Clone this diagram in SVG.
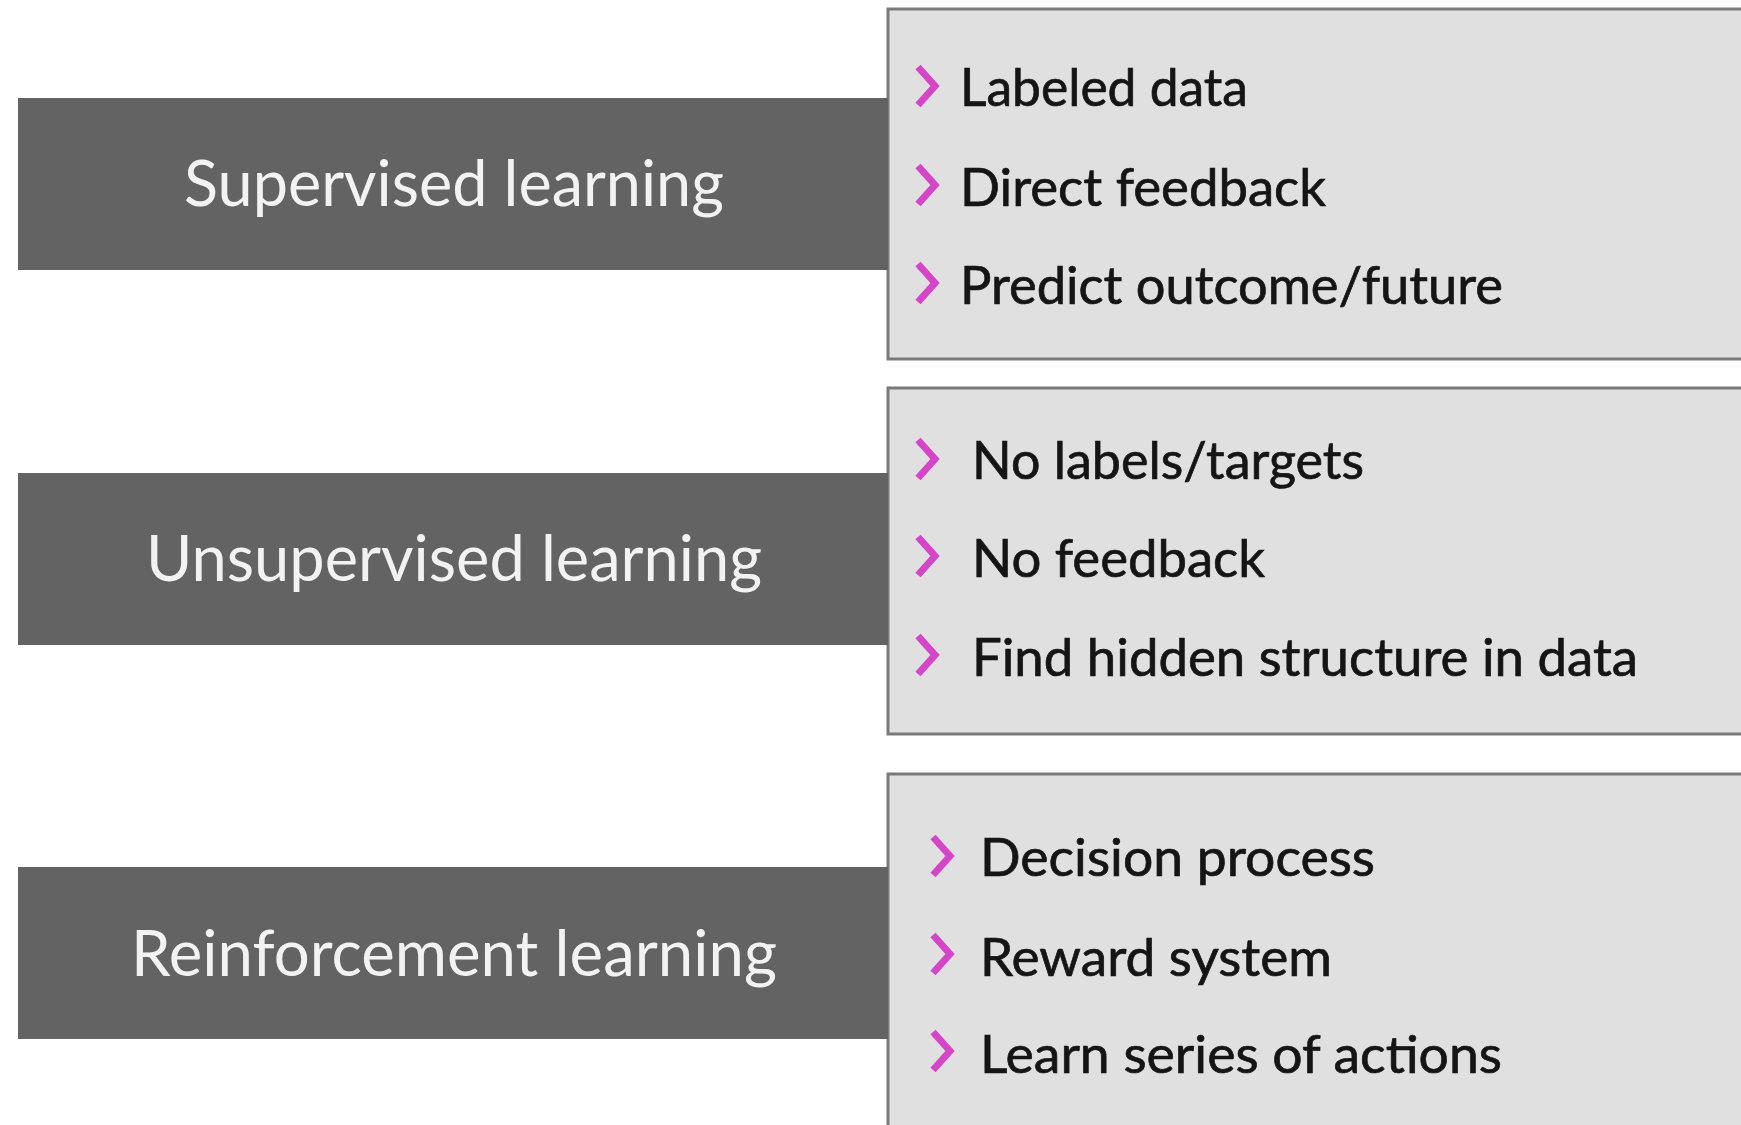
<svg xmlns="http://www.w3.org/2000/svg" xmlns:xlink="http://www.w3.org/1999/xlink" width="1741" height="1125" viewBox="0 0 1741 1125">
<style>
.cat{fill:#636363;}
.cat-t{font-family:Lato,"Open Sans","Liberation Sans",sans-serif;font-size:64px;fill:#f2f2f2;text-anchor:middle;}
.panel{fill:#e0e0e0;stroke:#7a7a7a;stroke-width:3;}
.item{font-family:Lato,"Open Sans","Liberation Sans",sans-serif;font-size:52px;fill:#151515;stroke:#151515;stroke-width:0.7;}
.chev{fill:none;stroke:#d545c8;stroke-width:7;stroke-linejoin:miter;stroke-linecap:butt;}
</style>
<defs>
<path id="chev" d="M0,-19 L17,0 L0,19"/>
</defs>
<rect width="1741" height="1125" fill="#ffffff"/>
<g id="connectors"></g>

<g id="supervised-details">
<rect class="panel" x="888" y="9" width="900" height="350"/>
<use href="#chev" class="chev" x="918" y="86"/>
<text class="item" x="960" y="106" textLength="288" lengthAdjust="spacingAndGlyphs">Labeled data</text>
<use href="#chev" class="chev" x="918" y="185"/>
<text class="item" x="960" y="206" textLength="366" lengthAdjust="spacingAndGlyphs">Direct feedback</text>
<use href="#chev" class="chev" x="918" y="283"/>
<text class="item" x="960" y="304" textLength="543" lengthAdjust="spacingAndGlyphs">Predict outcome/future</text>
</g>

<g id="unsupervised-details">
<rect class="panel" x="888" y="388" width="900" height="346"/>
<use href="#chev" class="chev" x="918" y="459"/>
<text class="item" x="972" y="479" textLength="392" lengthAdjust="spacingAndGlyphs">No labels/targets</text>
<use href="#chev" class="chev" x="918" y="556"/>
<text class="item" x="972" y="577" textLength="293" lengthAdjust="spacingAndGlyphs">No feedback</text>
<use href="#chev" class="chev" x="918" y="655"/>
<text class="item" x="972" y="676" textLength="666" lengthAdjust="spacingAndGlyphs">Find hidden structure in data</text>
</g>

<g id="reinforcement-details">
<rect class="panel" x="888" y="774" width="900" height="400"/>
<use href="#chev" class="chev" x="933" y="856"/>
<text class="item" x="980" y="876" textLength="395" lengthAdjust="spacingAndGlyphs">Decision process</text>
<use href="#chev" class="chev" x="933" y="954"/>
<text class="item" x="980" y="976" textLength="352" lengthAdjust="spacingAndGlyphs">Reward system</text>
<use href="#chev" class="chev" x="933" y="1051"/>
<text class="item" x="980" y="1073" textLength="522" lengthAdjust="spacingAndGlyphs">Learn series of actions</text>
</g>

<g id="supervised">
<rect class="cat" x="18" y="98" width="870" height="172"/>
<text class="cat-t" x="454" y="206" textLength="540" lengthAdjust="spacingAndGlyphs">Supervised learning</text>
</g>

<g id="unsupervised">
<rect class="cat" x="18" y="473" width="870" height="172"/>
<text class="cat-t" x="454" y="581" textLength="616" lengthAdjust="spacingAndGlyphs">Unsupervised learning</text>
</g>

<g id="reinforcement">
<rect class="cat" x="18" y="867" width="870" height="172"/>
<text class="cat-t" x="454" y="976" textLength="646" lengthAdjust="spacingAndGlyphs">Reinforcement learning</text>
</g>
</svg>
